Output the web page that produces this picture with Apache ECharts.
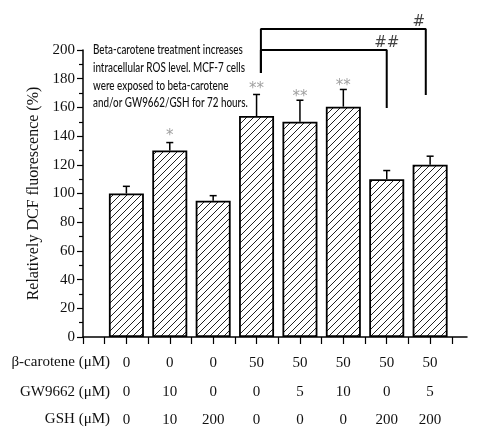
<!DOCTYPE html>
<html>
<head>
<meta charset="utf-8">
<script src="https://cdn.jsdelivr.net/npm/echarts@6/dist/echarts.min.js"></script>
<style>
  html, body { margin: 0; padding: 0; background: #fff; }
  #main { width: 490px; height: 439px; }
</style>
</head>
<body>
<div id="main"></div>
<script>
// 数据
var barPos = [1, 2, 3, 4, 5, 6, 7, 8];
var dcfValues = [100, 130, 95, 154, 150, 160.5, 110, 120];
var dcfErrors = [5, 5.5, 3.5, 15, 15, 12, 6, 6];
var betaCarotene = ['0', '0', '0', '50', '50', '50', '50', '50'];
var gw9662 = ['0', '10', '0', '0', '5', '10', '0', '5'];
var gsh = ['0', '10', '200', '0', '0', '0', '200', '200'];
var starLabels = ['', '*', '', '**', '**', '**', '', ''];
var starY = [null, 140, null, 173, 167, 175, null, null];
var rowNames = ['β-carotene (μM)', 'GW9662 (μM)', 'GSH (μM)'];
// 显著性括号
var bracket1X = [4.1, 4.1, 7.9, 7.9];
var bracket1Y = [184, 214.6, 214.6, 168.6];
var bracket2X = [4.1, 4.1, 7.0, 7.0];
var bracket2Y = [184, 200, 200, 159.6];
var hashLabels = ['#', '##'];
var hashX = [7.74, 7.0];
var hashY = [219.5, 205];
var noteLines = [
  'Beta-carotene treatment increases',
  'intracellular ROS level. MCF-7 cells',
  'were exposed to beta-carotene',
  'and/or GW9662/GSH for 72 hours.'
];

var serif = '"Liberation Serif", "Times New Roman", serif';
var noteFont = '500 14px Lato, "Noto Sans", sans-serif';

// 斜线填充
function makeHatch() {
  var c = document.createElement('canvas');
  var s = 7;
  c.width = s; c.height = s;
  var ctx = c.getContext('2d');
  ctx.fillStyle = '#fff';
  ctx.fillRect(0, 0, s, s);
  ctx.strokeStyle = '#222';
  ctx.lineWidth = 1;
  ctx.beginPath();
  ctx.moveTo(0, s); ctx.lineTo(s, 0);
  ctx.moveTo(-1, 1); ctx.lineTo(1, -1);
  ctx.moveTo(s - 1, s + 1); ctx.lineTo(s + 1, s - 1);
  ctx.stroke();
  return c;
}

// 说明文字压窄到原图宽度
function noteScale() {
  var ctx = document.createElement('canvas').getContext('2d');
  ctx.font = noteFont;
  var w = ctx.measureText(noteLines[1]).width;
  return 152 / w;
}

var myChart = echarts.init(document.getElementById('main'));

var barData = barPos.map(function (x, i) { return [x, dcfValues[i]]; });
var errData = barPos.map(function (x, i) { return [x, dcfValues[i], dcfValues[i] + dcfErrors[i]]; });
var starData = [];
barPos.forEach(function (x, i) {
  if (starY[i] != null) starData.push({ value: [x, starY[i]], label: { formatter: starLabels[i] } });
});

var graphics = [];
rowNames.forEach(function (t, i) {
  graphics.push({
    type: 'text', right: 380, top: [355, 385, 412][i],
    style: { text: t, font: '15px ' + serif, fill: '#111', textAlign: 'right' }
  });
});
graphics.push({
  type: 'text', x: 93, y: 41, scaleX: noteScale(),
  style: {
    text: noteLines.join('\n'),
    font: noteFont,
    lineHeight: 17.7, fill: '#111'
  }
});

var option = {
  animation: false,
  backgroundColor: '#fff',
  grid: { left: 83, right: 23, top: 50, bottom: 102, containLabel: false },
  xAxis: {
    type: 'value', min: 0, max: 8.85, interval: 0.5,
    axisLine: { lineStyle: { color: '#000', width: 1.5 } },
    axisTick: { show: true, inside: false, length: 7, lineStyle: { color: '#000', width: 1.2 } },
    splitLine: { show: false },
    axisLabel: {
      margin: 12, lineHeight: 28.5, color: '#111', fontSize: 15, fontFamily: serif,
      showMaxLabel: false,
      formatter: function (v) {
        var i = Math.round(v);
        if (Math.abs(v - i) > 0.01 || i < 1 || i > 8) return '';
        return betaCarotene[i - 1] + '\n' + gw9662[i - 1] + '\n' + gsh[i - 1];
      }
    }
  },
  yAxis: {
    type: 'value', min: 0, max: 200, interval: 20,
    name: 'Relatively DCF fluorescence (%)', nameLocation: 'middle', nameGap: 38,
    nameTextStyle: { fontSize: 16, fontFamily: serif, color: '#111' },
    axisLine: { show: true, lineStyle: { color: '#000', width: 1.5 } },
    axisTick: { show: true, length: 6, lineStyle: { color: '#000', width: 1.2 } },
    minorTick: { show: true, splitNumber: 2, length: 4, lineStyle: { color: '#000', width: 1.2 } },
    splitLine: { show: false },
    axisLabel: { margin: 8, fontSize: 15, fontFamily: serif, color: '#111' }
  },
  graphic: graphics,
  series: [
    {
      type: 'bar', data: barData, barWidth: 35,
      itemStyle: {
        color: { image: makeHatch(), repeat: 'repeat' },
        borderColor: '#000', borderWidth: 1.8
      }
    },
    {
      type: 'custom', data: errData, clip: false, z: 3,
      renderItem: function (params, api) {
        var p0 = api.coord([api.value(0), api.value(1)]);
        var p1 = api.coord([api.value(0), api.value(2)]);
        var style = { stroke: '#000', lineWidth: 1.5 };
        return {
          type: 'group',
          children: [
            { type: 'line', shape: { x1: p0[0], y1: p0[1], x2: p1[0], y2: p1[1] }, style: style },
            { type: 'line', shape: { x1: p1[0] - 3.5, y1: p1[1], x2: p1[0] + 3.5, y2: p1[1] }, style: style }
          ]
        };
      }
    },
    {
      type: 'scatter', data: starData, symbolSize: 0, clip: false,
      label: { show: true, position: 'inside', color: '#888', fontSize: 15, fontFamily: '"DejaVu Sans", sans-serif' }
    },
    {
      type: 'line', data: bracket1X.map(function (x, i) { return [x, bracket1Y[i]]; }),
      clip: false, symbol: 'none', lineStyle: { color: '#000', width: 2 }
    },
    {
      type: 'line', data: bracket2X.map(function (x, i) { return [x, bracket2Y[i]]; }),
      clip: false, symbol: 'none', lineStyle: { color: '#000', width: 2 }
    },
    {
      type: 'scatter', symbolSize: 0, clip: false,
      data: hashX.map(function (x, i) { return { value: [x, hashY[i]], label: { formatter: hashLabels[i] } }; }),
      label: { show: true, position: 'inside', color: '#111', fontSize: 15, fontFamily: '"DejaVu Sans", sans-serif' }
    }
  ]
};

if (option && typeof option === 'object') {
  myChart.setOption(option);
}
</script>
</body>
</html>
